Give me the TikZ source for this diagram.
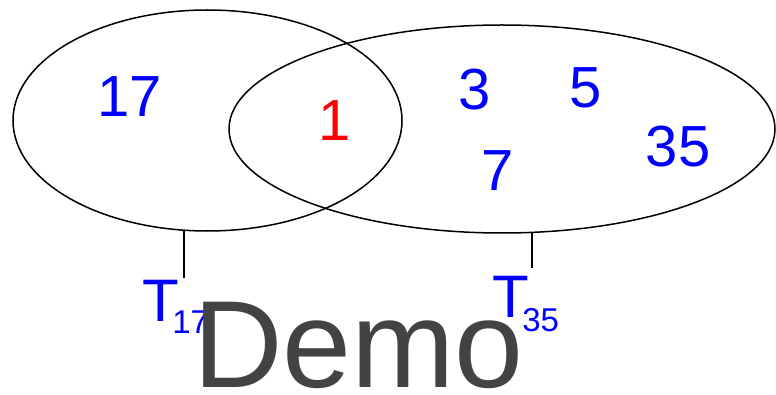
\documentclass[tikz,border=0pt]{standalone}
\usepackage{fontspec}
\setmainfont{Liberation Sans}
\usetikzlibrary{shapes.geometric}
\definecolor{demogray}{RGB}{67,67,67}
\definecolor{numblue}{RGB}{0,0,255}
\definecolor{numred}{RGB}{255,0,0}
\tikzset{
  setellipse/.style={draw=black, line width=1.5pt, ellipse, inner sep=0pt, outer sep=0pt},
  elem/.style={anchor=base, inner sep=0pt, text=numblue, font=\fontsize{58}{58}\selectfont},
  tlabel/.style={anchor=base west, inner sep=0pt, text=numblue},
  tick/.style={draw=black, line width=1.5pt},
  demo/.style={anchor=base west, inner sep=0pt, text=demogray, font=\fontsize{124}{124}\selectfont}
}
\newcommand{\setlabel}[2]{{\fontsize{60}{60}\selectfont T}\kern-7pt\raisebox{-#2pt}{\fontsize{33}{33}\selectfont #1}}
\begin{document}
\begin{tikzpicture}[x=1pt,y=1pt]
\useasboundingbox (0,0) rectangle (776,394);
% sets
\node[setellipse, minimum width=389pt, minimum height=221pt] (A) at (207.5,273.5) {};
\node[setellipse, minimum width=546pt, minimum height=208pt] (B) at (502,265) {};
% elements
\node[elem] (e17) at (130,277) {17};
\node[elem, text=numred] (e1) at (334.5,253) {1};
\node[elem] (e3) at (475,284) {3};
\node[elem] (e5) at (586,286) {5};
\node[elem] (e7) at (498,204) {7};
\node[elem] (e35) at (678,227) {35};
% set labels
\node[tlabel] (TA) at (142.5,73) {\setlabel{17}{12}};
\node[tlabel] (TB) at (492.5,77) {\setlabel{35}{14}};
\coordinate (TAtop) at (184,116);
\coordinate (TBtop) at (532,126);
\draw[tick] (TAtop |- A.south) -- (TAtop);
\draw[tick] (TBtop |- B.south) -- (TBtop);
% watermark
\node[demo] (demo) at (193,6.5) {Demo};
\end{tikzpicture}
\end{document}
